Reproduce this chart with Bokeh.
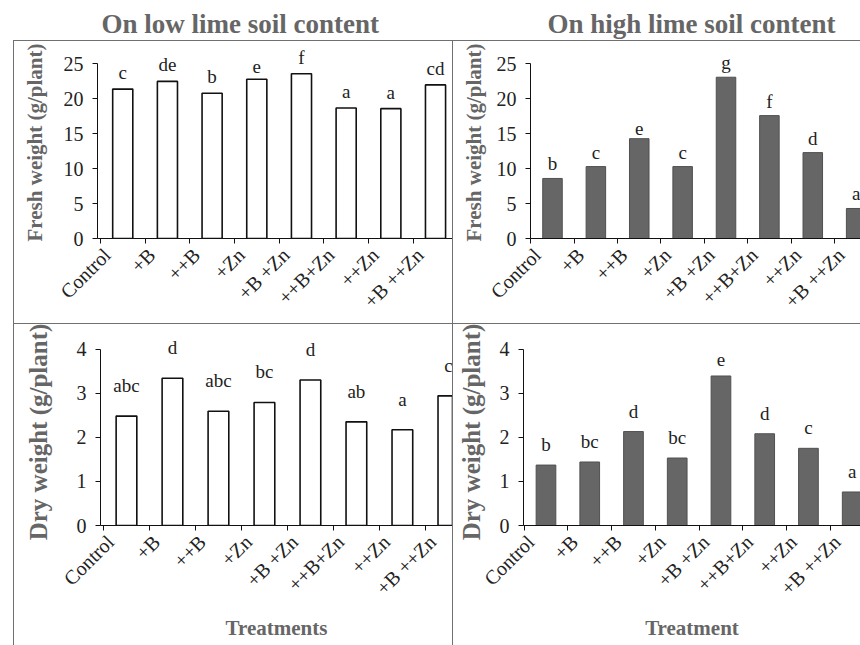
import math
from bokeh.plotting import figure
from bokeh.models import ColumnDataSource, LabelSet, Range1d, FixedTicker, Title
from bokeh.layouts import column, row
from bokeh.embed import file_html
from bokeh.resources import INLINE

treatments = ["Control", "+B", "++B", "+Zn", "+B +Zn", "++B+Zn", "++Zn", "+B ++Zn"]

fresh_low = [21.4, 22.5, 20.8, 22.8, 23.6, 18.7, 18.6, 22.0]
fresh_low_letters = ["c", "de", "b", "e", "f", "a", "a", "cd"]
fresh_high = [8.6, 10.3, 14.3, 10.3, 23.1, 17.6, 12.3, 4.3]
fresh_high_letters = ["b", "c", "e", "c", "g", "f", "d", "a"]
dry_low = [2.48, 3.34, 2.59, 2.79, 3.30, 2.35, 2.17, 2.94]
dry_low_letters = ["abc", "d", "abc", "bc", "d", "ab", "a", "c"]
dry_high = [1.37, 1.44, 2.13, 1.53, 3.39, 2.08, 1.75, 0.76]
dry_high_letters = ["b", "bc", "d", "bc", "e", "d", "c", "a"]

fresh_ticks = [0, 5, 10, 15, 20, 25]
dry_ticks = [0, 1, 2, 3, 4]

SERIF = "Liberation Serif"
RULE = "linear-gradient(#707070,#707070)"


def panel(values, letters, ticks, ylabel, ylab_size, xlabel, title, title_offset, filled,
          width, height, bl, bt, bb, x_start, x_end, y_pad, lab_off, ylab_standoff,
          xlab_standoff, rules):
    idx = list(range(len(treatments)))
    p = figure(width=width, height=height, output_backend="svg", toolbar_location=None,
               x_range=Range1d(x_start, x_end), y_range=Range1d(0, ticks[-1] * y_pad),
               min_border_left=bl, min_border_right=0, min_border_top=bt,
               min_border_bottom=bb)
    p.outline_line_color = None
    p.grid.grid_line_color = None
    p.background_fill_color = "white"
    p.border_fill_color = None
    p.styles = {"background": rules}

    src = ColumnDataSource(dict(x=idx, top=values, letter=letters))
    if filled:
        p.vbar(x="x", top="top", bottom=0, width=0.45, source=src,
               fill_color="#666666", line_color="#505050", line_width=1)
    else:
        p.vbar(x="x", top="top", bottom=0, width=0.45, source=src,
               fill_color="white", line_color="#111111", line_width=1.6)

    p.add_layout(LabelSet(x="x", y="top", text="letter", source=src, y_offset=lab_off,
                          text_align="center", text_baseline="bottom",
                          text_font=SERIF, text_font_size="19px", text_color="#222222"))

    # y axis
    p.yaxis.ticker = FixedTicker(ticks=ticks)
    p.yaxis.bounds = (0, ticks[-1])
    p.yaxis.minor_tick_line_color = None
    p.yaxis.major_tick_out = 5
    p.yaxis.major_tick_in = 0
    p.yaxis.axis_line_color = "#111111"
    p.yaxis.major_tick_line_color = "#111111"
    p.yaxis.major_label_text_font = SERIF
    p.yaxis.major_label_text_font_size = "20px"
    p.yaxis.major_label_text_color = "#222222"
    p.yaxis.major_label_standoff = 9
    p.yaxis.axis_label = ylabel
    p.yaxis.axis_label_text_font = SERIF
    p.yaxis.axis_label_text_font_style = "bold"
    p.yaxis.axis_label_text_font_size = ylab_size
    p.yaxis.axis_label_text_color = "#666666"
    p.yaxis.axis_label_standoff = ylab_standoff

    # x axis: category names as labels, small ticks at the category boundaries
    p.xaxis.ticker = FixedTicker(ticks=[i - 0.35 for i in idx],
                                 minor_ticks=[i - 0.5 for i in idx] + [idx[-1] + 0.5])
    p.xaxis.major_label_overrides = {i - 0.35: t for i, t in zip(idx, treatments)}
    p.xaxis.major_label_orientation = math.pi / 4
    p.xaxis.major_tick_line_color = None
    p.xaxis.major_tick_out = 0
    p.xaxis.minor_tick_out = 5
    p.xaxis.minor_tick_in = 0
    p.xaxis.minor_tick_line_color = "#111111"
    p.xaxis.axis_line_color = "#111111"
    p.xaxis.major_label_text_font = SERIF
    p.xaxis.major_label_text_font_size = "20px"
    p.xaxis.major_label_text_color = "#222222"
    p.xaxis.major_label_standoff = 8
    if xlabel:
        p.xaxis.axis_label = xlabel
        p.xaxis.axis_label_text_font = SERIF
        p.xaxis.axis_label_text_font_style = "bold"
        p.xaxis.axis_label_text_font_size = "21px"
        p.xaxis.axis_label_text_color = "#666666"
        p.xaxis.axis_label_standoff = xlab_standoff

    if title:
        p.add_layout(Title(text=title, align="left", offset=title_offset, standoff=12,
                           vertical_align="top",
                           text_font=SERIF, text_font_size="27px", text_font_style="bold",
                           text_color="#666666"), "above")
    return p


p1 = panel(fresh_low, fresh_low_letters, fresh_ticks, "Fresh weight (g/plant)", "21px", None,
           "On low lime soil content", 4, False, 452, 323, 97, 46, 85,
           -0.565, 7.38, 1.1, 6, 14, 0,
           f"{RULE} 13px 40px / 1px 283px no-repeat, {RULE} 13px 40px / 439px 1px no-repeat")
p2 = panel(fresh_high, fresh_high_letters, fresh_ticks, "Fresh weight (g/plant)", "21px", None,
           "On high lime soil content", 17, True, 408, 323, 78, 46, 85,
           -0.507, 7.1, 1.1, 4, 8, 0,
           f"{RULE} 0px 40px / 1px 283px no-repeat, {RULE} 0px 40px / 408px 1px no-repeat")
p3 = panel(dry_low, dry_low_letters, dry_ticks, "Dry weight (g/plant)", "25px", "Treatments",
           None, 0, False, 452, 322, 100, 15, 120,
           -0.565, 7.09, 1.06, 20, 22, 6,
           f"{RULE} 13px 0px / 1px 322px no-repeat, {RULE} 13px 0px / 439px 1px no-repeat")
p4 = panel(dry_high, dry_high_letters, dry_ticks, "Dry weight (g/plant)", "25px", "Treatment",
           None, 0, True, 408, 322, 71, 15, 120,
           -0.514, 7.19, 1.06, 10, 12, 6,
           f"{RULE} 0px 0px / 1px 322px no-repeat, {RULE} 0px 0px / 408px 1px no-repeat")

layout = column(row(p1, p2, spacing=0), row(p3, p4, spacing=0), spacing=0)
open("out.html", "w").write(file_html(layout, INLINE))
